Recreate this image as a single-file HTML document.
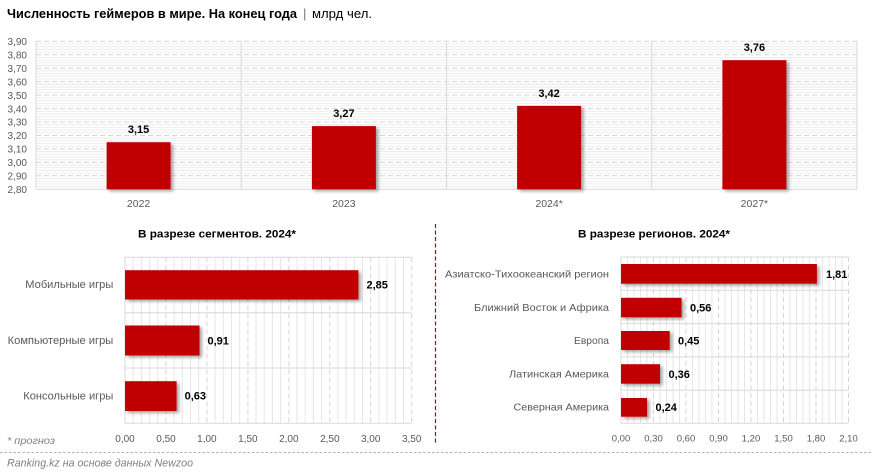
<!DOCTYPE html>
<html><head><meta charset="utf-8"><style>
html,body{margin:0;padding:0;background:#fff;}
svg{display:block;font-family:"Liberation Sans","Noto Sans CJK SC",sans-serif;}
</style></head><body>
<svg width="872" height="476" viewBox="0 0 872 476" xmlns="http://www.w3.org/2000/svg">
<defs>
<filter id="sh" x="-10%" y="-10%" width="130%" height="130%">
<feDropShadow dx="2.5" dy="2" stdDeviation="1.5" flood-color="#000" flood-opacity="0.35"/>
</filter>
</defs>
<rect width="872" height="476" fill="#fff"/>

<!-- Title -->
<text x="7" y="18" font-size="12.5" font-weight="bold" fill="#000" textLength="290" lengthAdjust="spacingAndGlyphs">Численность геймеров в мире. На конец года</text>
<text x="303" y="18" font-size="13" fill="#777">|</text>
<text x="312" y="18" font-size="12.5" fill="#000" textLength="60" lengthAdjust="spacingAndGlyphs">млрд чел.</text>

<!-- TOP CHART -->
<g id="top">
<g stroke="#ececec" stroke-width="1">
<line x1="36" x2="857" y1="186.6" y2="186.6"/><line x1="36" x2="857" y1="183.9" y2="183.9"/><line x1="36" x2="857" y1="181.2" y2="181.2"/><line x1="36" x2="857" y1="178.5" y2="178.5"/>
<line x1="36" x2="857" y1="173.1" y2="173.1"/><line x1="36" x2="857" y1="170.5" y2="170.5"/><line x1="36" x2="857" y1="167.8" y2="167.8"/><line x1="36" x2="857" y1="165.1" y2="165.1"/>
<line x1="36" x2="857" y1="159.7" y2="159.7"/><line x1="36" x2="857" y1="157.0" y2="157.0"/><line x1="36" x2="857" y1="154.3" y2="154.3"/><line x1="36" x2="857" y1="151.6" y2="151.6"/>
<line x1="36" x2="857" y1="146.2" y2="146.2"/><line x1="36" x2="857" y1="143.6" y2="143.6"/><line x1="36" x2="857" y1="140.9" y2="140.9"/><line x1="36" x2="857" y1="138.2" y2="138.2"/>
<line x1="36" x2="857" y1="132.8" y2="132.8"/><line x1="36" x2="857" y1="130.1" y2="130.1"/><line x1="36" x2="857" y1="127.4" y2="127.4"/><line x1="36" x2="857" y1="124.7" y2="124.7"/>
<line x1="36" x2="857" y1="119.3" y2="119.3"/><line x1="36" x2="857" y1="116.7" y2="116.7"/><line x1="36" x2="857" y1="114.0" y2="114.0"/><line x1="36" x2="857" y1="111.3" y2="111.3"/>
<line x1="36" x2="857" y1="105.9" y2="105.9"/><line x1="36" x2="857" y1="103.2" y2="103.2"/><line x1="36" x2="857" y1="100.5" y2="100.5"/><line x1="36" x2="857" y1="97.8" y2="97.8"/>
<line x1="36" x2="857" y1="92.4" y2="92.4"/><line x1="36" x2="857" y1="89.8" y2="89.8"/><line x1="36" x2="857" y1="87.1" y2="87.1"/><line x1="36" x2="857" y1="84.4" y2="84.4"/>
<line x1="36" x2="857" y1="79.0" y2="79.0"/><line x1="36" x2="857" y1="76.3" y2="76.3"/><line x1="36" x2="857" y1="73.6" y2="73.6"/><line x1="36" x2="857" y1="70.9" y2="70.9"/>
<line x1="36" x2="857" y1="65.5" y2="65.5"/><line x1="36" x2="857" y1="62.9" y2="62.9"/><line x1="36" x2="857" y1="60.2" y2="60.2"/><line x1="36" x2="857" y1="57.5" y2="57.5"/>
<line x1="36" x2="857" y1="52.1" y2="52.1"/><line x1="36" x2="857" y1="49.4" y2="49.4"/><line x1="36" x2="857" y1="46.7" y2="46.7"/><line x1="36" x2="857" y1="44.0" y2="44.0"/>
</g>
<g stroke="#d4d4d4" stroke-width="1" stroke-dasharray="5 3">
<line x1="36" x2="857" y1="175.8" y2="175.8"/>
<line x1="36" x2="857" y1="162.4" y2="162.4"/>
<line x1="36" x2="857" y1="148.9" y2="148.9"/>
<line x1="36" x2="857" y1="135.5" y2="135.5"/>
<line x1="36" x2="857" y1="122.0" y2="122.0"/>
<line x1="36" x2="857" y1="108.6" y2="108.6"/>
<line x1="36" x2="857" y1="95.1" y2="95.1"/>
<line x1="36" x2="857" y1="81.7" y2="81.7"/>
<line x1="36" x2="857" y1="68.2" y2="68.2"/>
<line x1="36" x2="857" y1="54.8" y2="54.8"/>
<line x1="36" x2="857" y1="41.3" y2="41.3"/>
</g>
<g stroke="#d9d9d9" stroke-width="1">
<line x1="36" x2="36" y1="41" y2="189.5"/>
<line x1="241.2" x2="241.2" y1="41" y2="189.5"/>
<line x1="446.5" x2="446.5" y1="41" y2="189.5"/>
<line x1="651.7" x2="651.7" y1="41" y2="189.5"/>
<line x1="857" x2="857" y1="41" y2="189.5"/>
<line x1="36" x2="857" y1="189.3" y2="189.3"/>
</g>
<g fill="#c00000" filter="url(#sh)">
<rect x="106.6" y="142.2" width="64" height="47.1"/>
<rect x="311.9" y="126.1" width="64" height="63.2"/>
<rect x="517.1" y="105.9" width="64" height="83.4"/>
<rect x="722.4" y="60.2" width="64" height="129.1"/>
</g>
<g font-size="11" font-weight="bold" fill="#000" text-anchor="middle">
<text x="138.6" y="133">3,15</text>
<text x="343.9" y="117">3,27</text>
<text x="549.1" y="97">3,42</text>
<text x="754.4" y="51">3,76</text>
</g>
<g font-size="10" fill="#595959" text-anchor="end">
<text x="27" y="45">3,90</text>
<text x="27" y="58.5">3,80</text>
<text x="27" y="72">3,70</text>
<text x="27" y="85.4">3,60</text>
<text x="27" y="98.8">3,50</text>
<text x="27" y="112.3">3,40</text>
<text x="27" y="125.7">3,30</text>
<text x="27" y="139.2">3,20</text>
<text x="27" y="152.6">3,10</text>
<text x="27" y="166.1">3,00</text>
<text x="27" y="179.5">2,90</text>
<text x="27" y="193">2,80</text>
</g>
<g font-size="10.5" fill="#595959" text-anchor="middle">
<text x="138.6" y="207">2022</text>
<text x="343.9" y="207">2023</text>
<text x="549.1" y="207">2024*</text>
<text x="754.4" y="207">2027*</text>
</g>
</g>

<!-- BOTTOM LEFT -->
<text x="217" y="237.5" font-size="11" font-weight="bold" fill="#000" text-anchor="middle" textLength="158" lengthAdjust="spacingAndGlyphs">В разрезе сегментов. 2024*</text>
<g stroke="#e6e6e6" stroke-width="1">
<line x1="133.2" x2="133.2" y1="257.3" y2="423.3"/><line x1="141.4" x2="141.4" y1="257.3" y2="423.3"/><line x1="149.6" x2="149.6" y1="257.3" y2="423.3"/><line x1="157.8" x2="157.8" y1="257.3" y2="423.3"/>
<line x1="174.1" x2="174.1" y1="257.3" y2="423.3"/><line x1="182.3" x2="182.3" y1="257.3" y2="423.3"/><line x1="190.5" x2="190.5" y1="257.3" y2="423.3"/><line x1="198.7" x2="198.7" y1="257.3" y2="423.3"/>
<line x1="215.1" x2="215.1" y1="257.3" y2="423.3"/><line x1="223.3" x2="223.3" y1="257.3" y2="423.3"/><line x1="231.5" x2="231.5" y1="257.3" y2="423.3"/><line x1="239.7" x2="239.7" y1="257.3" y2="423.3"/>
<line x1="256.0" x2="256.0" y1="257.3" y2="423.3"/><line x1="264.2" x2="264.2" y1="257.3" y2="423.3"/><line x1="272.4" x2="272.4" y1="257.3" y2="423.3"/><line x1="280.6" x2="280.6" y1="257.3" y2="423.3"/>
<line x1="297.0" x2="297.0" y1="257.3" y2="423.3"/><line x1="305.2" x2="305.2" y1="257.3" y2="423.3"/><line x1="313.4" x2="313.4" y1="257.3" y2="423.3"/><line x1="321.6" x2="321.6" y1="257.3" y2="423.3"/>
<line x1="337.9" x2="337.9" y1="257.3" y2="423.3"/><line x1="346.1" x2="346.1" y1="257.3" y2="423.3"/><line x1="354.3" x2="354.3" y1="257.3" y2="423.3"/><line x1="362.5" x2="362.5" y1="257.3" y2="423.3"/>
<line x1="378.9" x2="378.9" y1="257.3" y2="423.3"/><line x1="387.1" x2="387.1" y1="257.3" y2="423.3"/><line x1="395.3" x2="395.3" y1="257.3" y2="423.3"/><line x1="403.5" x2="403.5" y1="257.3" y2="423.3"/>
</g>
<g stroke="#d4d4d4" stroke-width="1" stroke-dasharray="5 3">
<line x1="166" x2="166" y1="257.3" y2="423.3"/>
<line x1="206.9" x2="206.9" y1="257.3" y2="423.3"/>
<line x1="247.9" x2="247.9" y1="257.3" y2="423.3"/>
<line x1="288.8" x2="288.8" y1="257.3" y2="423.3"/>
<line x1="329.8" x2="329.8" y1="257.3" y2="423.3"/>
<line x1="370.7" x2="370.7" y1="257.3" y2="423.3"/>
<line x1="411.7" x2="411.7" y1="257.3" y2="423.3"/>
</g>
<g stroke="#d9d9d9" stroke-width="1">
<line x1="125" x2="411.7" y1="257.3" y2="257.3"/>
<line x1="125" x2="411.7" y1="312.7" y2="312.7"/>
<line x1="125" x2="411.7" y1="368" y2="368"/>
<line x1="125" x2="411.7" y1="423.3" y2="423.3"/>
<line x1="125" x2="125" y1="257.3" y2="423.3"/>
</g>
<g fill="#c00000" filter="url(#sh)">
<rect x="125" y="270.2" width="233.4" height="29.3"/>
<rect x="125" y="325.5" width="74.5" height="30"/>
<rect x="125" y="381.2" width="51.6" height="29.8"/>
</g>
<g font-size="11" font-weight="bold" fill="#000">
<text x="366.5" y="288.7">2,85</text>
<text x="207.5" y="344.3">0,91</text>
<text x="184.6" y="399.7">0,63</text>
</g>
<g font-size="11" fill="#595959" text-anchor="end">
<text x="113.3" y="288" textLength="88" lengthAdjust="spacingAndGlyphs">Мобильные игры</text>
<text x="113.3" y="344" textLength="105.6" lengthAdjust="spacingAndGlyphs">Компьютерные игры</text>
<text x="113.3" y="399.5" textLength="90" lengthAdjust="spacingAndGlyphs">Консольные игры</text>
</g>
<g font-size="10" fill="#595959" text-anchor="middle">
<text x="125" y="442">0,00</text>
<text x="166" y="442">0,50</text>
<text x="206.9" y="442">1,00</text>
<text x="247.9" y="442">1,50</text>
<text x="288.8" y="442">2,00</text>
<text x="329.8" y="442">2,50</text>
<text x="370.7" y="442">3,00</text>
<text x="411.7" y="442">3,50</text>
</g>

<!-- divider -->
<line x1="435.5" x2="435.5" y1="224" y2="445" stroke="#b00000" stroke-width="1.2" stroke-dasharray="4 2.5"/>

<!-- BOTTOM RIGHT -->
<text x="654" y="237.5" font-size="11" font-weight="bold" fill="#000" text-anchor="middle" textLength="152" lengthAdjust="spacingAndGlyphs">В разрезе регионов. 2024*</text>
<g stroke="#e6e6e6" stroke-width="1">
<line x1="627.5" x2="627.5" y1="257" y2="423.3"/><line x1="634" x2="634" y1="257" y2="423.3"/><line x1="640.5" x2="640.5" y1="257" y2="423.3"/><line x1="647" x2="647" y1="257" y2="423.3"/>
<line x1="660" x2="660" y1="257" y2="423.3"/><line x1="666.5" x2="666.5" y1="257" y2="423.3"/><line x1="673" x2="673" y1="257" y2="423.3"/><line x1="679.5" x2="679.5" y1="257" y2="423.3"/>
<line x1="692.5" x2="692.5" y1="257" y2="423.3"/><line x1="699" x2="699" y1="257" y2="423.3"/><line x1="705.5" x2="705.5" y1="257" y2="423.3"/><line x1="712" x2="712" y1="257" y2="423.3"/>
<line x1="725" x2="725" y1="257" y2="423.3"/><line x1="731.5" x2="731.5" y1="257" y2="423.3"/><line x1="738" x2="738" y1="257" y2="423.3"/><line x1="744.5" x2="744.5" y1="257" y2="423.3"/>
<line x1="757.5" x2="757.5" y1="257" y2="423.3"/><line x1="764" x2="764" y1="257" y2="423.3"/><line x1="770.5" x2="770.5" y1="257" y2="423.3"/><line x1="777" x2="777" y1="257" y2="423.3"/>
<line x1="790" x2="790" y1="257" y2="423.3"/><line x1="796.5" x2="796.5" y1="257" y2="423.3"/><line x1="803" x2="803" y1="257" y2="423.3"/><line x1="809.5" x2="809.5" y1="257" y2="423.3"/>
<line x1="822.5" x2="822.5" y1="257" y2="423.3"/><line x1="829" x2="829" y1="257" y2="423.3"/><line x1="835.5" x2="835.5" y1="257" y2="423.3"/><line x1="842" x2="842" y1="257" y2="423.3"/>
</g>
<g stroke="#d4d4d4" stroke-width="1" stroke-dasharray="5 3">
<line x1="653.5" x2="653.5" y1="257" y2="423.3"/>
<line x1="686" x2="686" y1="257" y2="423.3"/>
<line x1="718.5" x2="718.5" y1="257" y2="423.3"/>
<line x1="751" x2="751" y1="257" y2="423.3"/>
<line x1="783.5" x2="783.5" y1="257" y2="423.3"/>
<line x1="816" x2="816" y1="257" y2="423.3"/>
<line x1="848.5" x2="848.5" y1="257" y2="423.3"/>
</g>
<g stroke="#d9d9d9" stroke-width="1">
<line x1="621" x2="848.5" y1="257" y2="257"/>
<line x1="621" x2="848.5" y1="290.3" y2="290.3"/>
<line x1="621" x2="848.5" y1="323.6" y2="323.6"/>
<line x1="621" x2="848.5" y1="356.9" y2="356.9"/>
<line x1="621" x2="848.5" y1="390.2" y2="390.2"/>
<line x1="621" x2="848.5" y1="423.3" y2="423.3"/>
<line x1="621" x2="621" y1="257" y2="423.3"/>
</g>
<g fill="#c00000" filter="url(#sh)">
<rect x="621" y="264" width="195.9" height="19.7"/>
<rect x="621" y="297.8" width="60.6" height="19.5"/>
<rect x="621" y="331" width="48.7" height="19"/>
<rect x="621" y="364.2" width="39" height="19.5"/>
<rect x="621" y="398" width="26" height="18.7"/>
</g>
<g font-size="11" font-weight="bold" fill="#000">
<text x="826" y="277.8">1,81</text>
<text x="690" y="311.5">0,56</text>
<text x="678" y="344.5">0,45</text>
<text x="668.5" y="377.8">0,36</text>
<text x="655.5" y="411">0,24</text>
</g>
<g font-size="10.5" fill="#595959" text-anchor="end">
<text x="609" y="277.5" textLength="164" lengthAdjust="spacingAndGlyphs">Азиатско-Тихоокеанский регион</text>
<text x="609" y="311" textLength="135" lengthAdjust="spacingAndGlyphs">Ближний Восток и Африка</text>
<text x="609" y="344" textLength="35" lengthAdjust="spacingAndGlyphs">Европа</text>
<text x="609" y="377.5" textLength="100" lengthAdjust="spacingAndGlyphs">Латинская Америка</text>
<text x="609" y="410.5" textLength="95.5" lengthAdjust="spacingAndGlyphs">Северная Америка</text>
</g>
<g font-size="9.5" fill="#595959" text-anchor="middle">
<text x="621" y="441.5">0,00</text>
<text x="653.5" y="441.5">0,30</text>
<text x="686" y="441.5">0,60</text>
<text x="718.5" y="441.5">0,90</text>
<text x="751" y="441.5">1,20</text>
<text x="783.5" y="441.5">1,50</text>
<text x="816" y="441.5">1,80</text>
<text x="848.5" y="441.5">2,10</text>
</g>

<!-- footer -->
<text x="7" y="444" font-size="10.5" font-style="italic" fill="#7f7f7f" textLength="48" lengthAdjust="spacingAndGlyphs">* прогноз</text>
<line x1="0" x2="872" y1="452.5" y2="452.5" stroke="#b0b0b0" stroke-width="1" stroke-dasharray="2.5 2"/>
<text x="7" y="466.5" font-size="11" font-style="italic" fill="#7f7f7f" textLength="186" lengthAdjust="spacingAndGlyphs">Ranking.kz на основе данных Newzoo</text>
</svg>
</body></html>
